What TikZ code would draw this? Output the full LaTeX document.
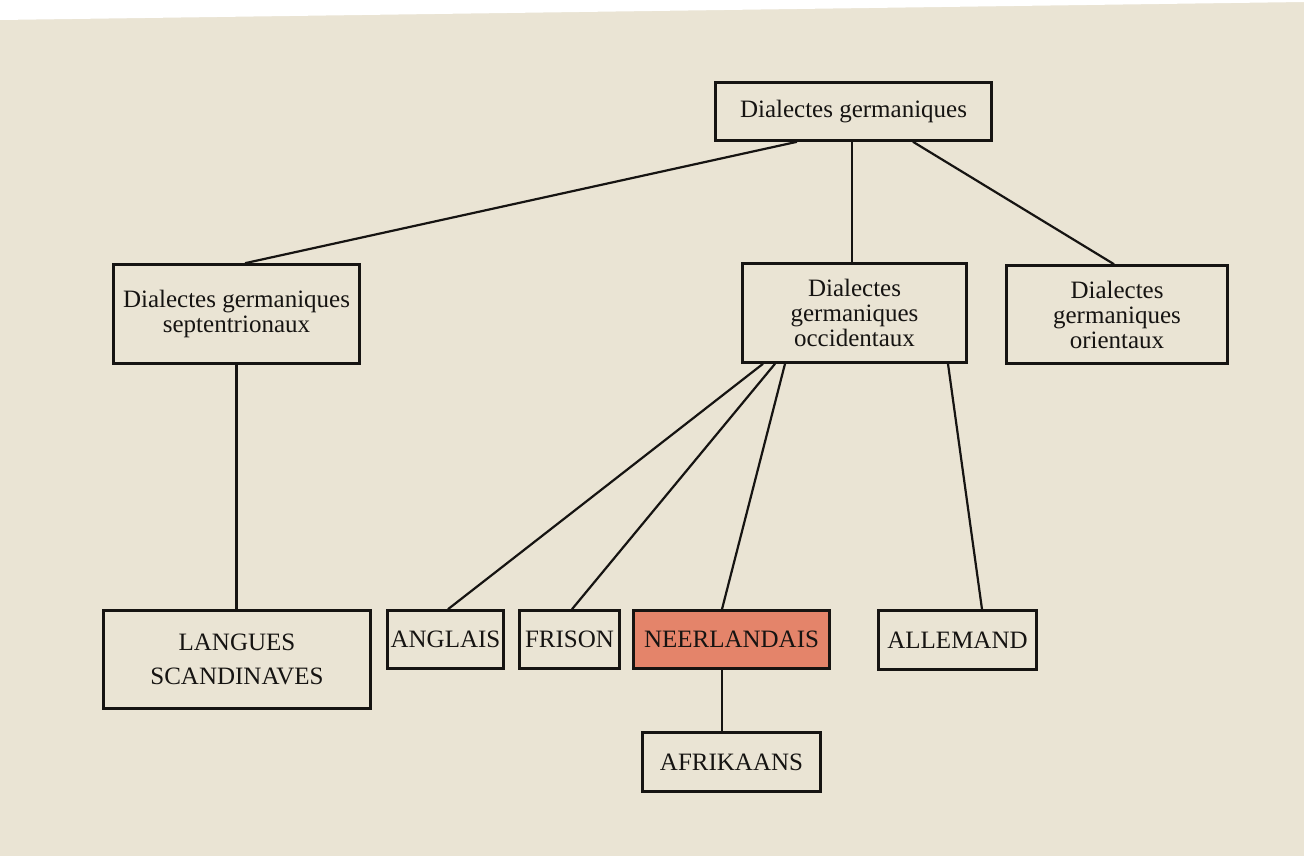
\documentclass[tikz,border=0pt]{standalone}
\usepackage{fontspec}
\setmainfont{Liberation Serif}
\usetikzlibrary{positioning}
\definecolor{paper}{RGB}{234,228,212}
\definecolor{ink}{RGB}{22,20,18}
\definecolor{salmon}{RGB}{228,132,106}
\begin{document}
\begin{tikzpicture}[x=1pt,y=-1pt,
  box/.style={draw=ink,line width=2.6pt,rectangle,inner sep=0pt,align=center,
    text=ink,font=\fontsize{25}{25}\selectfont},
  link/.style={draw=ink,line width=2.2pt}]
\useasboundingbox (0,0) rectangle (1304,856);
\fill[paper] (0,0) rectangle (1304,856);
\fill[white] (0,0) -- (1304,0) -- (1304,2) -- (0,20) -- cycle;

\node[box,minimum width=276pt,minimum height=58pt] (top) at (853.5,111.5) {Dialectes germaniques};
\node[box,minimum width=246pt,minimum height=99pt] (sept) at (236.5,314) {Dialectes germaniques\\septentrionaux};
\node[box,minimum width=224pt,minimum height=99pt] (occ) at (854.5,313) {Dialectes\\germaniques\\occidentaux};
\node[box,minimum width=221pt,minimum height=98pt] (or) at (1117,314.5) {Dialectes\\germaniques\\orientaux};
\node[box,minimum width=267pt,minimum height=98pt] (lang) at (237,659.5) {LANGUES\\[9pt]SCANDINAVES};
\node[box,minimum width=116pt,minimum height=58pt] (angl) at (445.5,639.5) {ANGLAIS};
\node[box,minimum width=100pt,minimum height=58pt] (fris) at (569.5,639.5) {FRISON};
\node[box,fill=salmon,minimum width=196pt,minimum height=58pt] (neer) at (731.5,639.5) {NEERLANDAIS};
\node[box,minimum width=158pt,minimum height=59pt] (alle) at (957.5,640) {ALLEMAND};
\node[box,minimum width=178pt,minimum height=59pt] (afri) at (731.5,762) {AFRIKAANS};

\draw[link] ([xshift=-56.5pt]top.south) -- ([xshift=8.5pt]sept.north);
\draw[link] ([xshift=-1.5pt]top.south) -- ([xshift=-2.5pt]occ.north);
\draw[link] ([xshift=59.5pt]top.south) -- ([xshift=-3pt]or.north);
\draw[link] (sept.south) -- (sept.south |- lang.north);
\draw[link] ([xshift=-91.5pt]occ.south) -- ([xshift=2.5pt]angl.north);
\draw[link] ([xshift=-79.5pt]occ.south) -- ([xshift=2.5pt]fris.north);
\draw[link] ([xshift=-69.5pt]occ.south) -- ([xshift=-9.5pt]neer.north);
\draw[link] ([xshift=93.5pt]occ.south) -- ([xshift=24.5pt]alle.north);
\draw[link] ([xshift=-9.5pt]neer.south) -- ([xshift=-9.5pt]afri.north);
\end{tikzpicture}
\end{document}
